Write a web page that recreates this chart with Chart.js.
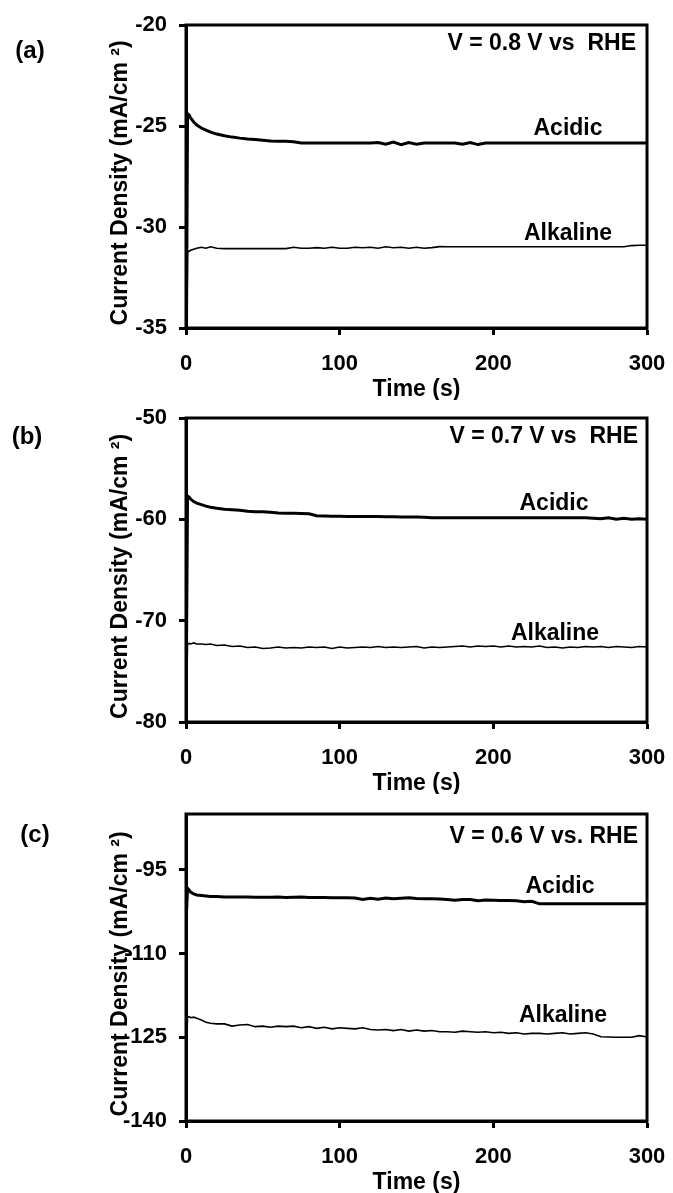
<!DOCTYPE html>
<html><head><meta charset="utf-8">
<script src="https://cdn.jsdelivr.net/npm/chart.js@4.4.0/dist/chart.umd.min.js"></script>
<style>
html,body{margin:0;padding:0;background:#fff;}
#wrap{position:relative;width:673px;height:1193px;overflow:hidden;background:#fff;}
canvas{position:absolute;left:0;}
</style></head><body>
<div id="wrap">
<canvas id="ca" width="673" height="400" style="top:0px"></canvas>
<canvas id="cb" width="673" height="400" style="top:394px"></canvas>
<canvas id="cc" width="673" height="400" style="top:793px"></canvas>
</div>
<script>
// ---------- data ----------
const TIME = [0,1,2,3,5,7,10,13,16,20,25,30,35,40,45,50,55,60,65,70,75,80,85,90,95,100,105,110,115,120,125,130,135,140,145,150,155,160,165,170,175,180,185,190,195,200,205,210,215,220,225,230,235,240,245,250,255,260,265,270,275,280,285,290,295,300];

// panel (a) V = 0.8 V
const A_ACIDIC = [-40,-24.4,-24.45,-24.6,-24.8,-24.95,-25.1,-25.2,-25.3,-25.4,
  -25.48,-25.55,-25.6,-25.64,-25.67,-25.7,-25.74,-25.75,-25.76,-25.78,-25.84,
  -25.84,-25.84,-25.84,-25.84,-25.84,-25.84,-25.84,-25.84,-25.84,
  -25.82,-25.9,-25.8,-25.92,-25.82,-25.9,
  -25.84,-25.84,-25.84,-25.84,-25.84,
  -25.9,-25.82,-25.92,-25.84,
  -25.84,-25.84,-25.84,-25.84,-25.84,-25.84,-25.84,-25.84,-25.84,-25.84,-25.84,
  -25.84,-25.84,-25.84,-25.84,-25.84,-25.84,-25.84,-25.84,-25.84,-25.84];
const A_ALKALINE = [-40,-31.25,-31.2,-31.15,-31.1,-31.05,-31.0,-31.05,-30.98,-31.05,
  -31.07,-31.07,-31.07,-31.07,-31.07,-31.07,-31.07,-31.07,-31.07,
  -31.0,-31.05,-31.05,-31.02,-31.05,-31.0,-31.05,-31.05,-31.0,-31.03,-31.0,
  -31.05,-30.98,-31.03,-31.0,-31.05,-31.0,-31.05,-31.02,-30.97,
  -30.98,-30.98,-30.98,-30.98,-30.98,-30.98,-30.98,-30.98,-30.98,-30.98,-30.98,-30.98,
  -30.98,-30.98,-30.98,-30.98,-30.98,-30.98,-30.98,-30.98,-30.98,-30.98,-30.98,-30.98,
  -30.92,-30.9,-30.9];

// panel (b) V = 0.7 V
const B_ACIDIC = [-80,-57.7,-57.8,-58.0,-58.25,-58.4,-58.55,-58.7,-58.8,-58.9,
  -59.0,-59.05,-59.1,-59.2,-59.25,-59.25,-59.3,-59.38,-59.4,-59.4,-59.42,-59.45,-59.65,-59.68,
  -59.7,-59.7,-59.72,-59.72,-59.72,-59.73,-59.73,-59.75,-59.74,-59.76,-59.78,-59.78,-59.8,-59.85,
  -59.85,-59.85,-59.85,-59.85,-59.85,-59.85,-59.85,-59.85,-59.85,-59.85,
  -59.85,-59.85,-59.85,-59.85,-59.85,-59.85,-59.85,-59.85,-59.85,-59.85,
  -59.9,-59.95,-59.85,-60.0,-59.9,-60.0,-59.95,-60.0];
const B_ALKALINE = [-80,-72.3,-72.25,-72.3,-72.2,-72.3,-72.3,-72.35,-72.3,-72.45,
  -72.4,-72.55,-72.5,-72.65,-72.6,-72.75,-72.7,-72.6,-72.7,-72.65,-72.7,-72.6,-72.65,-72.6,
  -72.75,-72.6,-72.7,-72.65,-72.6,-72.65,-72.55,-72.65,-72.6,-72.65,-72.6,-72.55,-72.7,-72.6,
  -72.65,-72.6,-72.55,-72.5,-72.6,-72.5,-72.55,-72.5,-72.6,-72.5,-72.6,-72.55,-72.6,-72.5,
  -72.65,-72.6,-72.7,-72.6,-72.65,-72.55,-72.6,-72.55,-72.65,-72.55,-72.6,-72.65,-72.55,-72.6];

// panel (c) V = 0.6 V
const C_ACIDIC = [-105,-98.3,-98.6,-99.0,-99.3,-99.5,-99.6,-99.7,-99.8,-99.8,
  -99.85,-99.85,-99.85,-99.85,-99.9,-99.9,-99.9,-99.85,-99.95,-99.9,-99.85,-99.95,-99.95,-99.95,
  -100.0,-100.0,-100.0,-100.05,-100.3,-100.1,-100.25,-100.05,-100.2,-100.1,-100.0,-100.15,
  -100.2,-100.2,-100.25,-100.3,-100.45,-100.3,-100.3,-100.55,-100.4,-100.45,-100.5,-100.5,
  -100.55,-100.7,-100.65,-101.1,
  -101.1,-101.1,-101.1,-101.1,-101.1,-101.1,-101.1,-101.1,-101.1,-101.1,-101.1,-101.1,-101.1,-101.1];
const C_ALKALINE = [-130,-121.4,-121.3,-121.5,-121.4,-121.6,-121.9,-122.3,-122.5,-122.6,
  -122.6,-123.0,-122.8,-122.7,-123.1,-123.0,-123.2,-123.0,-123.1,-123.0,-123.3,-123.1,-123.4,-123.2,
  -123.5,-123.3,-123.4,-123.5,-123.3,-123.6,-123.7,-123.6,-123.8,-123.6,-123.9,-123.7,-123.9,-123.8,
  -124.0,-124.0,-124.1,-123.9,-124.0,-124.1,-124.0,-124.2,-124.1,-124.3,-124.2,-124.4,-124.3,-124.3,
  -124.4,-124.3,-124.2,-124.4,-124.3,-124.2,-124.4,-124.9,-124.95,-125.0,-125.0,-125.0,-124.7,-124.95];

const X_TICKS = [0,100,200,300];
const A_TICKS = [-35,-30,-25,-20];
const B_TICKS = [-80,-70,-60,-50];
const C_TICKS = [-140,-125,-110,-95];
const PANEL_LABELS = ['(a)','(b)','(c)'];
const POTENTIALS = ['V = 0.8 V vs  RHE','V = 0.7 V vs  RHE','V = 0.6 V vs. RHE'];
const SERIES_NAMES = ['Acidic','Alkaline'];
const X_TITLE = 'Time (s)';
const Y_TITLE = 'Current Density (mA/cm \u00B2)  ';

// ---------- layout / style ----------
const FONT = "'Liberation Sans', Arial, Helvetica, sans-serif";
const panels = [
  {id:'ca', acid:A_ACIDIC, alk:A_ALKALINE, min:-35, max:-20, ticks:A_TICKS, top:25,
   lab:{x:30,y:51}, pot:{x:636,y:50}, acidLab:{x:568,y:135}, alkLab:{x:568,y:240}},
  {id:'cb', acid:B_ACIDIC, alk:B_ALKALINE, min:-80, max:-50, ticks:B_TICKS, top:24,
   lab:{x:27,y:43}, pot:{x:638,y:49}, acidLab:{x:554,y:116}, alkLab:{x:555,y:246}},
  {id:'cc', acid:C_ACIDIC, alk:C_ALKALINE, min:-140, max:-85, ticks:C_TICKS, top:21,
   lab:{x:35,y:42}, pot:{x:638,y:50}, acidLab:{x:560,y:100}, alkLab:{x:563,y:229}}
];

const framePlugin = {
  id:'frame',
  afterDatasetsDraw(chart){
    const {ctx, chartArea:a} = chart;
    ctx.save();
    ctx.strokeStyle = '#000'; ctx.lineWidth = 3;
    ctx.strokeRect(a.left, a.top, a.right - a.left, a.bottom - a.top);
    ctx.restore();
  }
};
const textPlugin = {
  id:'texts',
  afterDraw(chart, args, opts){
    const p = opts.panel, i = opts.index, ctx = chart.ctx;
    ctx.save();
    ctx.fillStyle = '#000';
    ctx.textBaseline = 'middle'; ctx.textAlign = 'center';
    ctx.font = 'bold 24px ' + FONT;
    ctx.fillText(PANEL_LABELS[i], p.lab.x, p.lab.y);
    ctx.textBaseline = 'alphabetic';
    ctx.font = 'bold 23px ' + FONT;
    ctx.textAlign = 'right';
    ctx.fillText(POTENTIALS[i], p.pot.x, p.pot.y);
    ctx.textAlign = 'center';
    ctx.fillText(SERIES_NAMES[0], p.acidLab.x, p.acidLab.y);
    ctx.fillText(SERIES_NAMES[1], p.alkLab.x, p.alkLab.y);
    ctx.restore();
  }
};

const axisFont = {family: FONT, size: 22, weight: 'bold'};
const gridOpts = {display:true, drawOnChartArea:false, drawTicks:true, tickLength:7, tickWidth:3, tickColor:'#000'};
const borderOpts = {display:true, width:3, color:'#000'};

panels.forEach((p, i) => {
  const toPts = arr => TIME.map((t, k) => ({x: t, y: arr[k]}));
  new Chart(document.getElementById(p.id), {
    type: 'line',
    data: {
      datasets: [
        {label: SERIES_NAMES[0], data: toPts(p.acid), borderColor:'#000', borderWidth:3, pointRadius:0, tension:0, fill:false},
        {label: SERIES_NAMES[1], data: toPts(p.alk), borderColor:'#000', borderWidth:1.6, pointRadius:0, tension:0, fill:false}
      ]
    },
    options: {
      responsive:false, animation:false, devicePixelRatio:1,
      layout: {padding: {top:p.top, right:26, left:0, bottom:0}},
      plugins: {legend:{display:false}, tooltip:{enabled:false}, texts:{panel:p, index:i}},
      scales: {
        x: {
          type:'linear', min:0, max:300,
          afterBuildTicks: s => { s.ticks = X_TICKS.map(v => ({value:v})); },
          afterFit: s => { s.height = 72; s.paddingLeft = 0; s.paddingRight = 0; },
          ticks: {font:axisFont, color:'#000', padding:16, maxRotation:0},
          grid: gridOpts, border: borderOpts,
          title: {display:true, text:X_TITLE, font:{family:FONT,size:23,weight:'bold'}, color:'#000', padding:{top:0,bottom:-3}}
        },
        y: {
          type:'linear', min:p.min, max:p.max,
          afterBuildTicks: s => { s.ticks = p.ticks.map(v => ({value:v})); },
          afterFit: s => { s.width = 186; s.paddingTop = 0; s.paddingBottom = 0; },
          ticks: {font:axisFont, color:'#000', padding:12},
          grid: gridOpts, border: borderOpts,
          title: {display:true, text:Y_TITLE, font:{family:FONT,size:23,weight:'bold'}, color:'#000', padding:{top:107,bottom:0}}
        }
      }
    },
    plugins: [framePlugin, textPlugin]
  });
});
</script>
</body></html>
